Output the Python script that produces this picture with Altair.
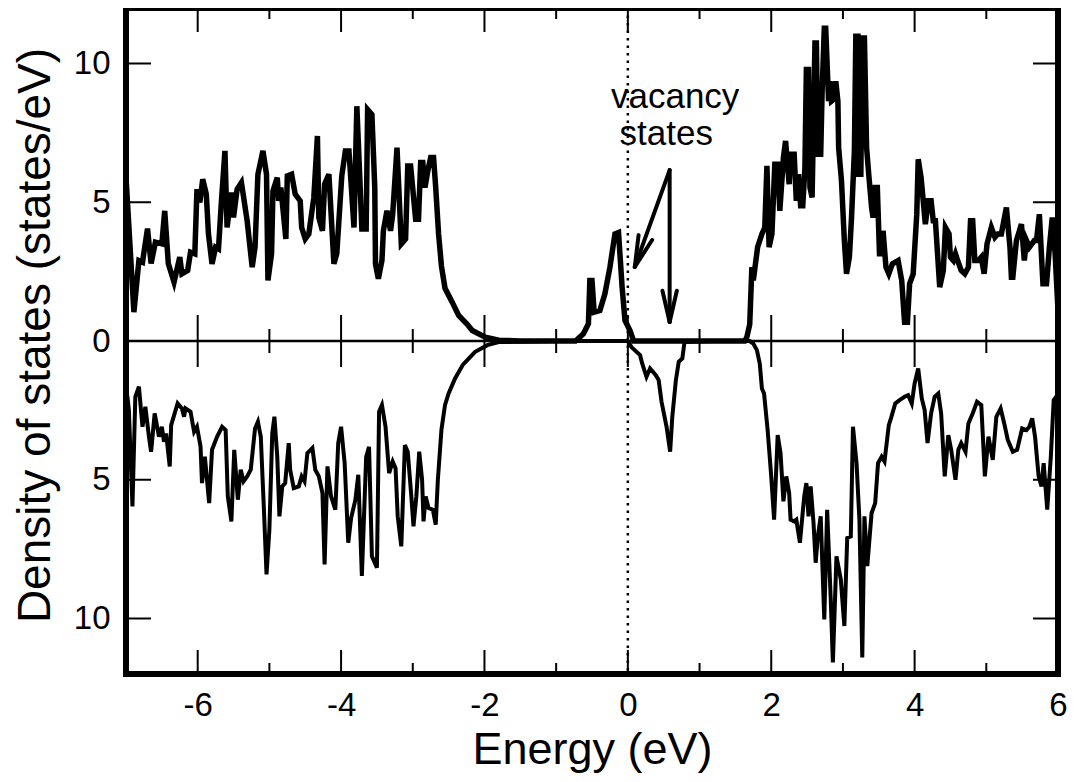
import math
import altair as alt
import pandas as pd

# ---------------- data ----------------
up_energy = [-7.00, -6.89, -6.82, -6.77, -6.70, -6.65, -6.59, -6.50, -6.46, -6.41, -6.33, -6.25, -6.22, -6.14,
             -6.10, -6.04, -6.01, -5.97, -5.93, -5.88, -5.85, -5.80, -5.75, -5.71, -5.67, -5.62, -5.59, -5.53,
             -5.50, -5.45, -5.39, -5.31, -5.24, -5.20, -5.16, -5.09, -5.04, -5.02, -4.97, -4.95, -4.89, -4.87,
             -4.84, -4.77, -4.75, -4.69, -4.64, -4.57, -4.55, -4.50, -4.45, -4.38, -4.33, -4.31, -4.26, -4.23,
             -4.17, -4.10, -4.06, -3.99, -3.94, -3.89, -3.82, -3.78, -3.71, -3.65, -3.63, -3.57, -3.53, -3.52,
             -3.48, -3.43, -3.41, -3.36, -3.31, -3.28, -3.22, -3.16, -3.10, -3.07, -3.03, -2.96, -2.92, -2.89,
             -2.86, -2.83, -2.79, -2.75, -2.71, -2.68, -2.64, -2.60, -2.55, -2.45, -2.36, -2.24, -2.17, -1.99,
             -1.80, -1.50, -1.00, -0.73, -0.62, -0.55, -0.53, -0.50, -0.47, -0.39, -0.32, -0.25, -0.18, -0.13,
             -0.08, -0.04, 0.03, 0.08, 0.50, 1.00, 1.63, 1.66, 1.70, 1.73, 1.75, 1.81, 1.87, 1.91, 1.94, 1.97,
             2.01, 2.05, 2.09, 2.12, 2.17, 2.20, 2.25, 2.27, 2.32, 2.35, 2.38, 2.41, 2.44, 2.47, 2.49, 2.52,
             2.54, 2.57, 2.61, 2.63, 2.65, 2.69, 2.71, 2.74, 2.76, 2.80, 2.82, 2.84, 2.87, 2.90, 2.93, 2.94,
             2.98, 3.02, 3.05, 3.09, 3.12, 3.16, 3.18, 3.21, 3.22, 3.25, 3.27, 3.30, 3.33, 3.36, 3.40, 3.42,
             3.45, 3.48, 3.51, 3.54, 3.56, 3.60, 3.64, 3.69, 3.77, 3.82, 3.86, 3.90, 3.93, 3.98, 4.03, 4.05,
             4.09, 4.12, 4.15, 4.19, 4.23, 4.26, 4.29, 4.35, 4.40, 4.43, 4.48, 4.50, 4.54, 4.57, 4.60, 4.65,
             4.70, 4.75, 4.78, 4.81, 4.84, 4.89, 4.93, 4.97, 5.01, 5.07, 5.12, 5.16, 5.21, 5.28, 5.33, 5.35,
             5.37, 5.42, 5.49, 5.53, 5.56, 5.60, 5.67, 5.70, 5.74, 5.79, 5.84, 5.88, 5.92, 5.96, 6.00]
up_dos = [5.90, 1.04, 2.90, 2.84, 4.05, 2.79, 3.56, 3.50, 4.69, 2.79, 2.12, 3.02, 2.42, 2.54,
          3.20, 3.14, 5.47, 4.99, 5.83, 5.29, 3.86, 2.78, 3.38, 3.32, 4.99, 6.85, 4.09, 5.35,
          4.45, 5.47, 5.71, 4.33, 2.66, 3.38, 6.01, 6.85, 6.01, 2.18, 3.14, 5.41, 5.89, 5.05,
          5.53, 3.68, 5.95, 6.01, 5.29, 5.05, 4.09, 3.68, 3.86, 5.17, 7.39, 4.45, 3.97, 5.65,
          6.01, 2.78, 3.14, 5.95, 6.85, 6.85, 4.09, 8.46, 4.04, 4.04, 8.34, 8.16, 5.53, 2.78,
          2.24, 2.90, 3.97, 4.69, 3.97, 4.57, 6.97, 3.50, 3.68, 6.31, 6.31, 4.39, 4.39, 6.43,
          6.43, 5.53, 6.13, 6.61, 6.61, 5.53, 3.86, 2.70, 1.90, 1.40, 0.92, 0.60, 0.38, 0.14,
          0.03, 0.00, 0.00, 0.00, 0.26, 0.62, 2.18, 2.18, 1.04, 1.10, 1.70, 2.66, 3.86, 3.91,
          1.94, 0.74, 0.38, 0.00, 0.00, 0.00, 0.00, 0.14, 0.60, 2.66, 2.18, 3.38, 3.86, 4.09, 6.31, 3.38,
          3.86, 6.37, 6.37, 4.69, 6.61, 7.21, 5.65, 6.73, 6.73, 5.05, 6.01, 4.87, 4.87, 6.25, 9.78, 9.78,
          5.53, 5.17, 10.74, 10.74, 6.73, 6.73, 9.00, 11.27, 11.27, 8.64, 9.36, 8.64, 8.70, 9.36, 8.64, 6.97,
          5.77, 3.62, 2.42, 3.02, 4.45, 6.85, 10.98, 10.98, 6.01, 6.01, 10.92, 10.92, 6.97, 6.01, 4.81, 4.45,
          5.53, 5.53, 3.14, 3.14, 3.97, 2.66, 2.42, 2.78, 2.90, 2.18, 0.68, 0.68, 2.06, 2.42, 4.57, 6.55,
          5.89, 5.05, 4.21, 5.05, 5.05, 4.33, 4.33, 1.94, 2.54, 4.09, 3.86, 3.02, 2.90, 3.14, 2.90, 2.54,
          2.42, 2.66, 4.33, 4.33, 2.90, 2.90, 3.02, 2.42, 3.50, 4.09, 3.74, 3.86, 3.86, 4.81, 3.38, 2.30,
          2.30, 3.62, 4.21, 2.90, 3.62, 3.38, 3.62, 3.62, 4.57, 2.06, 2.06, 3.38, 4.45, 3.14, 1.10]

down_energy = [-7.00, -6.98, -6.96, -6.91, -6.87, -6.82, -6.77, -6.73, -6.68, -6.65, -6.60, -6.54, -6.50, -6.47,
               -6.44, -6.39, -6.37, -6.28, -6.22, -6.19, -6.17, -6.10, -6.05, -6.01, -5.96, -5.94, -5.90, -5.84,
               -5.80, -5.73, -5.66, -5.61, -5.58, -5.53, -5.49, -5.44, -5.40, -5.36, -5.31, -5.26, -5.20, -5.16,
               -5.12, -5.08, -5.04, -5.00, -4.96, -4.93, -4.89, -4.86, -4.82, -4.78, -4.73, -4.71, -4.66, -4.59,
               -4.55, -4.51, -4.47, -4.40, -4.36, -4.31, -4.26, -4.23, -4.19, -4.14, -4.08, -4.04, -4.00, -3.95,
               -3.90, -3.86, -3.80, -3.76, -3.71, -3.65, -3.61, -3.57, -3.50, -3.47, -3.43, -3.38, -3.33, -3.28,
               -3.24, -3.21, -3.16, -3.11, -3.07, -3.02, -2.99, -2.95, -2.91, -2.87, -2.85, -2.82, -2.78, -2.72,
               -2.68, -2.65, -2.60, -2.55, -2.50, -2.41, -2.30, -2.13, -1.96, -1.80, -1.00, 0.00, 0.05, 0.17,
               0.20, 0.26, 0.31, 0.39, 0.43, 0.47, 0.54, 0.59, 0.62, 0.67, 0.71, 0.76, 0.79, 1.20, 1.70, 1.75,
               1.80, 1.84, 1.87, 1.90, 1.95, 2.00, 2.04, 2.09, 2.13, 2.17, 2.21, 2.25, 2.27, 2.32, 2.35, 2.40,
               2.46, 2.49, 2.52, 2.55, 2.59, 2.62, 2.65, 2.69, 2.74, 2.78, 2.83, 2.86, 2.91, 2.97, 3.02, 3.06,
               3.11, 3.14, 3.19, 3.23, 3.27, 3.30, 3.34, 3.40, 3.45, 3.49, 3.54, 3.58, 3.64, 3.67, 3.73, 3.79,
               3.86, 3.91, 3.96, 4.00, 4.05, 4.10, 4.14, 4.18, 4.23, 4.28, 4.33, 4.37, 4.42, 4.47, 4.51, 4.57,
               4.61, 4.65, 4.71, 4.75, 4.81, 4.87, 4.93, 4.98, 5.03, 5.09, 5.14, 5.20, 5.25, 5.30, 5.37, 5.43,
               5.50, 5.56, 5.60, 5.64, 5.68, 5.73, 5.77, 5.80, 5.85, 5.90, 5.94, 5.99]
down_dos = [-1.80, -2.01, -2.49, -5.96, -2.01, -1.65, -3.09, -2.37, -3.45, -3.99, -2.61, -3.45, -3.09, -3.63,
            -3.33, -4.52, -3.03, -2.25, -2.43, -2.73, -2.43, -2.55, -3.27, -3.09, -3.81, -5.12, -4.17, -5.84,
            -3.92, -3.45, -3.09, -3.21, -5.60, -6.50, -3.92, -5.72, -4.64, -5.06, -4.88, -4.64, -3.15, -2.91,
            -3.45, -5.84, -8.41, -6.80, -3.33, -2.73, -4.17, -6.32, -5.24, -5.12, -3.68, -4.64, -5.30, -5.24,
            -4.88, -5.06, -4.04, -3.86, -4.64, -4.88, -5.48, -8.05, -4.52, -5.60, -6.08, -3.68, -3.09, -4.40,
            -7.27, -6.38, -5.72, -4.82, -8.47, -4.17, -3.81, -7.76, -8.17, -2.55, -2.31, -3.09, -4.76, -4.34,
            -4.58, -6.32, -7.40, -3.75, -3.99, -5.60, -6.68, -5.60, -3.99, -5.00, -6.50, -5.60, -6.02, -6.08,
            -6.62, -5.00, -3.20, -2.30, -1.89, -1.35, -0.85, -0.39, -0.15, -0.04, 0.00, 0.00, -0.22, -0.51,
            -0.81, -1.29, -0.99, -1.23, -1.41, -2.19, -3.09, -3.99, -2.73, -1.41, -0.75, -0.63, -0.04, 0.00, 0.00, -0.09,
            -0.33, -0.81, -1.71, -1.89, -3.21, -4.88, -6.44, -3.39, -4.04, -5.78, -4.88, -5.48, -6.44, -6.50, -6.44, -7.27,
            -5.60, -5.12, -6.32, -5.24, -6.56, -7.99, -7.04, -6.32, -10.03, -6.08, -9.31, -11.58, -7.76, -8.59, -10.27, -7.10,
            -7.04, -3.09, -4.40, -6.44, -11.40, -6.32, -8.11, -6.20, -5.84, -4.40, -4.17, -4.34, -3.03, -2.79, -2.25, -2.13,
            -2.01, -1.95, -2.25, -1.53, -0.99, -2.07, -2.49, -3.68, -2.61, -2.01, -1.89, -2.61, -4.88, -3.39, -3.92, -5.00,
            -3.92, -3.68, -3.99, -2.97, -2.61, -2.19, -2.31, -4.88, -3.45, -4.28, -2.73, -2.43, -2.97, -3.57, -3.99, -3.92,
            -3.15, -3.21, -3.09, -2.79, -3.45, -4.88, -5.24, -4.40, -6.08, -4.17, -2.13, -1.95]

x_major = [-6, -4, -2, 0, 2, 4, 6]
x_minor = [-5, -3, -1, 1, 3, 5]
y_ticks = [-10, -5, 5, 10]
y_labels = [-10, -5, 0, 5, 10]

note_lines = ["vacancy", "states"]
note_x = [0.66, 0.535]
note_y = [8.39, 7.06]

arrow_start = (0.583, 6.16)
arrow_tips = [(0.097, 2.67), (0.583, 0.685)]

# ---------------- layout ----------------
W, H = 932, 666
XDOM = [-7, 6]
YDOM = [-12, 12]
FONT = "Liberation Sans"
PX_PER_Y = H / (YDOM[1] - YDOM[0])

xs = alt.Scale(domain=XDOM, nice=False, zero=False)
ys = alt.Scale(domain=YDOM, nice=False, zero=False)

up_df = pd.DataFrame({"E": up_energy, "D": up_dos})
dn_df = pd.DataFrame({"E": down_energy, "D": down_dos})
major_df = pd.DataFrame({"E": x_major})
minor_df = pd.DataFrame({"E": x_minor})
ytick_df = pd.DataFrame({"D": y_ticks})
note_df = pd.DataFrame({"t": note_lines, "E": note_x, "D": note_y})
# ticks crossing the zero line (half-lengths given in pixels, converted to data units)
mid_df = pd.DataFrame({
    "E": x_major + x_minor,
    "D": [-26 / PX_PER_Y] * len(x_major) + [-12 / PX_PER_Y] * len(x_minor),
    "D2": [26 / PX_PER_Y] * len(x_major) + [12 / PX_PER_Y] * len(x_minor),
})


def arrow_segments(start, tip, L=32.0, ang=13.0):
    sx = W / (XDOM[1] - XDOM[0])
    sy = PX_PER_Y
    x0, y0 = start
    x1, y1 = tip
    bu, bv = (x0 - x1) * sx, (y0 - y1) * sy
    n = math.hypot(bu, bv)
    bu, bv = bu / n, bv / n
    segs = [(x0, y0, x1, y1)]
    for s in (1, -1):
        a = math.radians(ang * s)
        ru = bu * math.cos(a) - bv * math.sin(a)
        rv = bu * math.sin(a) + bv * math.cos(a)
        segs.append((x1, y1, x1 + ru * L / sx, y1 + rv * L / sy))
    return segs


segs = []
for tip in arrow_tips:
    segs += arrow_segments(arrow_start, tip)
arrow_df = pd.DataFrame(segs, columns=["E", "D", "E2", "D2"])

x_axis = alt.Axis(values=x_major, ticks=False, domain=False, grid=False,
                  labelFont=FONT, labelFontSize=33, labelColor="black", labelPadding=15,
                  labelExpr="'' + datum.value", labelFlush=False, labelOverlap=False,
                  title="Energy (eV)", titleFont=FONT, titleFontSize=45, titleFontWeight="normal",
                  titleColor="black", titleX=W / 2, titleY=89, titleBaseline="alphabetic",
                  titleAlign="center")
y_axis = alt.Axis(values=y_labels, ticks=False, domain=False, grid=False,
                  labelFont=FONT, labelFontSize=33, labelColor="black", labelPadding=16,
                  labelExpr="'' + abs(datum.value)", labelOverlap=False, labelFlush=False,
                  title="Density of states (states/eV)", titleFont=FONT, titleFontSize=46,
                  titleFontWeight="normal", titleColor="black", titleX=-91, titleY=327,
                  titleAngle=-90, titleBaseline="middle", titleAlign="center")


def X(field="E:Q"):
    return alt.X(field, scale=xs, axis=x_axis)


def Y(field="D:Q"):
    return alt.Y(field, scale=ys, axis=y_axis)


# dotted Fermi level
fermi = alt.Chart(pd.DataFrame({"E": [0]})).mark_rule(
    color="black", strokeWidth=2.5, strokeDash=[2.5, 5]).encode(x=X())

# zero line
zero = alt.Chart(pd.DataFrame({"D": [0]})).mark_rule(color="black", strokeWidth=2.5).encode(y=Y())

# ticks
tick_top_major = alt.Chart(major_df).mark_rule(color="black", strokeWidth=2).encode(
    x=X(), y=alt.value(0), y2=alt.value(24))
tick_top_minor = alt.Chart(minor_df).mark_rule(color="black", strokeWidth=2).encode(
    x=X(), y=alt.value(0), y2=alt.value(11))
tick_bot_major = alt.Chart(major_df).mark_rule(color="black", strokeWidth=2).encode(
    x=X(), y=alt.value(H - 24), y2=alt.value(H))
tick_bot_minor = alt.Chart(minor_df).mark_rule(color="black", strokeWidth=2).encode(
    x=X(), y=alt.value(H - 11), y2=alt.value(H))
tick_mid = alt.Chart(mid_df).mark_rule(color="black", strokeWidth=2).encode(
    x=X(), y=Y(), y2="D2:Q")
tick_left = alt.Chart(ytick_df).mark_rule(color="black", strokeWidth=2).encode(
    y=Y(), x=alt.value(0), x2=alt.value(25))
tick_right = alt.Chart(ytick_df).mark_rule(color="black", strokeWidth=2).encode(
    y=Y(), x=alt.value(W - 25), x2=alt.value(W))

# curves
down_line = alt.Chart(dn_df).mark_line(color="black", strokeWidth=4).encode(x=X(), y=Y())
up_line = alt.Chart(up_df).mark_line(color="black", strokeWidth=5.5).encode(x=X(), y=Y())

# annotation
notes = alt.Chart(note_df).mark_text(font=FONT, fontSize=35, color="black",
                                     align="center", baseline="alphabetic").encode(
    x=X(), y=Y(), text="t:N")
arrows = alt.Chart(arrow_df).mark_rule(color="black", strokeWidth=4, strokeCap="round").encode(
    x=X(), y=Y(), x2="E2:Q", y2="D2:Q")

chart = alt.layer(
    fermi, zero, tick_top_major, tick_top_minor, tick_bot_major, tick_bot_minor,
    tick_mid, tick_left, tick_right, down_line, up_line, notes, arrows
).properties(
    width=W, height=H,
    autosize=alt.AutoSizeParams(type="none"),
    padding={"left": 118, "top": 0, "right": 10, "bottom": 100},
    background="white",
).configure_view(stroke="black", strokeWidth=6)

chart.save("out.html", embed_options={"renderer": "svg", "actions": False})
